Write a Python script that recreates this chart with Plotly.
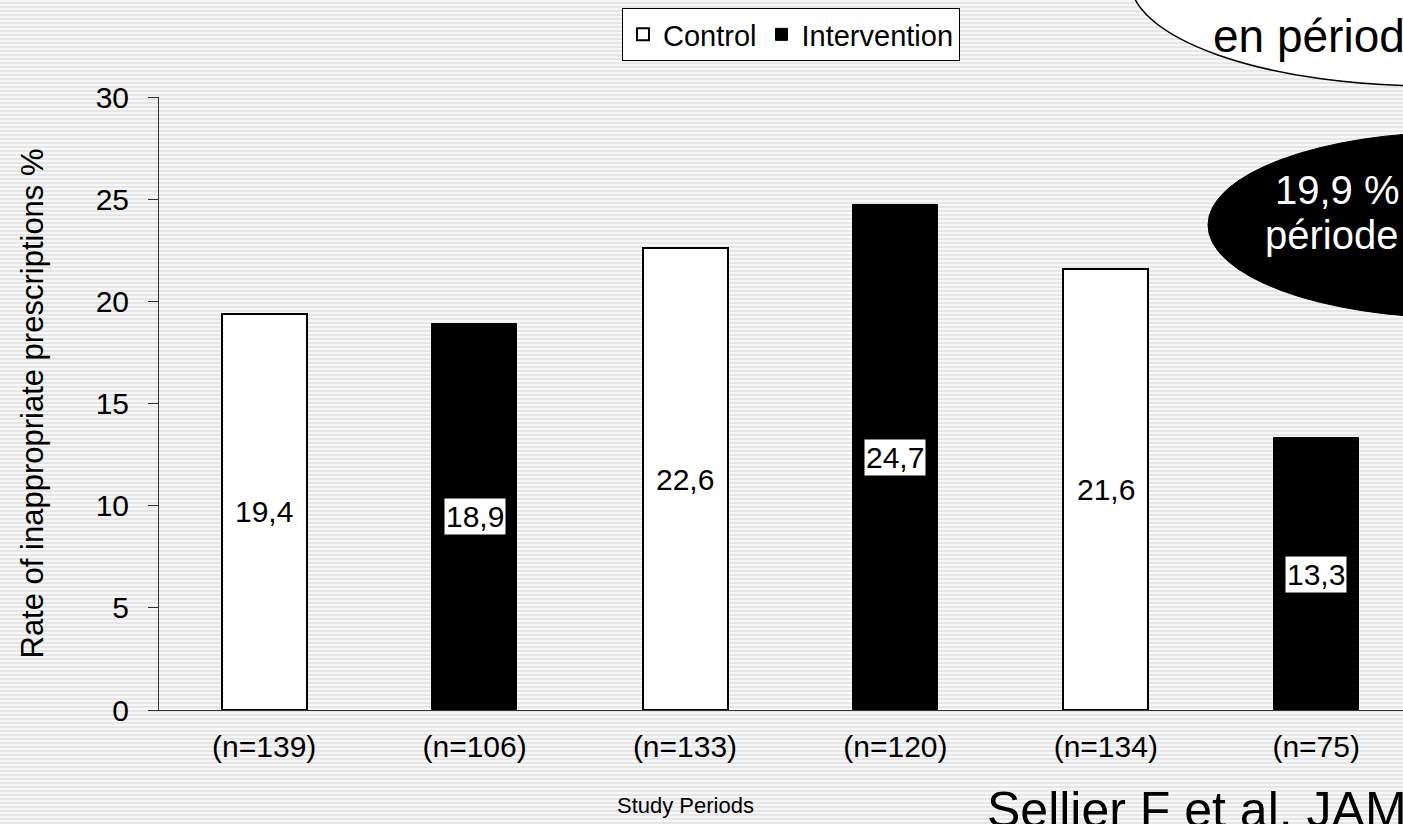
import plotly.graph_objects as go

# Study periods (x categories) and observed rates
periods = ["(n=139)", "(n=106)", "(n=133)", "(n=120)", "(n=134)", "(n=75)"]
control_periods = ["(n=139)", "(n=133)", "(n=134)"]
control_rates = [19.4, 22.6, 21.6]
intervention_periods = ["(n=106)", "(n=120)", "(n=75)"]
intervention_rates = [18.9, 24.7, 13.3]
y_ticks = [0, 5, 10, 15, 20, 25, 30]

W, H = 1403, 824
L, R, T, B = 159, 0, 97, 114
PW, PH = W - L - R, H - T - B


def px(x):
    return (x - L) / PW


def py(y):
    return (H - B - y) / PH


FONT = "Liberation Sans, Arial, sans-serif"

fig = go.Figure()
fig.add_trace(go.Bar(
    name="Control", x=control_periods, y=control_rates, width=0.404,
    marker=dict(color="white", line=dict(color="black", width=2)),
    hoverinfo="skip",
))
fig.add_trace(go.Bar(
    name="Intervention", x=intervention_periods, y=intervention_rates, width=0.404,
    marker=dict(color="black", line=dict(color="black", width=1)),
    hoverinfo="skip",
))

# value labels centred in each bar
for cat, v in zip(control_periods, control_rates):
    fig.add_annotation(x=cat, y=v / 2, text=f"{v:.1f}".replace(".", ","),
                       showarrow=False, font=dict(size=30, color="black", family=FONT))
for cat, v in zip(intervention_periods, intervention_rates):
    fig.add_annotation(x=cat, y=v / 2, text=f"{v:.1f}".replace(".", ","),
                       showarrow=False, bgcolor="white", borderpad=1,
                       font=dict(size=30, color="black", family=FONT))

# striped slide background
stripes = (
    "data:image/svg+xml;utf8,"
    "<svg xmlns='http://www.w3.org/2000/svg' width='1403' height='824'>"
    "<defs><pattern id='p' width='8' height='4' patternUnits='userSpaceOnUse'>"
    "<rect width='8' height='4' fill='%23f7f7f7'/>"
    "<rect y='2' width='8' height='2' fill='%23e6e6e6'/></pattern></defs>"
    "<rect width='1403' height='824' fill='url(%23p)'/></svg>"
)
fig.add_layout_image(dict(
    source=stripes, xref="paper", yref="paper",
    x=px(0), y=py(0), sizex=W / PW, sizey=H / PH,
    xanchor="left", yanchor="top", sizing="stretch", layer="below",
))

# callout bubbles on the right
fig.add_shape(type="circle", xref="paper", yref="paper",
              x0=px(1130), x1=px(1730), y0=py(-126), y1=py(86),
              fillcolor="white", line=dict(color="black", width=1.5))
fig.add_annotation(xref="paper", yref="paper", x=px(1211), y=py(36),
                   xanchor="left", yanchor="middle", showarrow=False,
                   text="en période", font=dict(size=46, color="black", family=FONT))
fig.add_shape(type="circle", xref="paper", yref="paper",
              x0=px(1208), x1=px(1712), y0=py(132), y1=py(318),
              fillcolor="black", line=dict(color="black", width=1))
fig.add_annotation(xref="paper", yref="paper", x=px(1273), y=py(190),
                   xanchor="left", yanchor="middle", showarrow=False,
                   text="19,9 %", font=dict(size=40, color="white", family=FONT))
fig.add_annotation(xref="paper", yref="paper", x=px(1263), y=py(235),
                   xanchor="left", yanchor="middle", showarrow=False,
                   text="période", font=dict(size=40, color="white", family=FONT))

# axis caption and reference
fig.add_annotation(xref="paper", yref="paper", x=px(685), y=py(806),
                   xanchor="center", yanchor="middle", showarrow=False,
                   text="Study Periods", font=dict(size=22, color="black", family=FONT))
fig.add_annotation(xref="paper", yref="paper", x=px(985), y=py(810),
                   xanchor="left", yanchor="middle", showarrow=False,
                   text="Sellier F et al. JAMA", font=dict(size=50, color="black", family=FONT))

fig.update_layout(
    width=W, height=H,
    margin=dict(l=L, r=R, t=T, b=B),
    paper_bgcolor="white", plot_bgcolor="rgba(0,0,0,0)",
    barmode="overlay", bargap=0,
    font=dict(family=FONT, color="black"),
    showlegend=True,
    legend=dict(
        orientation="h", xref="container", yref="container",
        x=791 / W, y=1 - 8 / H, xanchor="center", yanchor="top",
        bgcolor="white", bordercolor="black", borderwidth=1,
        font=dict(size=29, color="black", family=FONT),
        itemwidth=30, tracegroupgap=0,
    ),
)
fig.update_xaxes(
    type="category", categoryorder="array", categoryarray=periods,
    range=[-0.5, -0.5 + PW / 210.4],
    showline=True, linecolor="#333333", linewidth=1,
    ticks="", showgrid=False, zeroline=False,
    tickfont=dict(size=30, color="black", family=FONT), ticklabelstandoff=10,
)
fig.update_yaxes(
    range=[0, 30], tickvals=y_ticks, ticktext=[str(t) for t in y_ticks],
    showline=True, linecolor="#333333", linewidth=1,
    ticks="outside", ticklen=10, tickcolor="#333333",
    showgrid=False, zeroline=False,
    tickfont=dict(size=30, color="black", family=FONT), ticklabelstandoff=13,
    title=dict(text="Rate of inappropriate prescriptions %",
               font=dict(size=31, color="black", family=FONT), standoff=42),
)

fig.write_html("out.html")
